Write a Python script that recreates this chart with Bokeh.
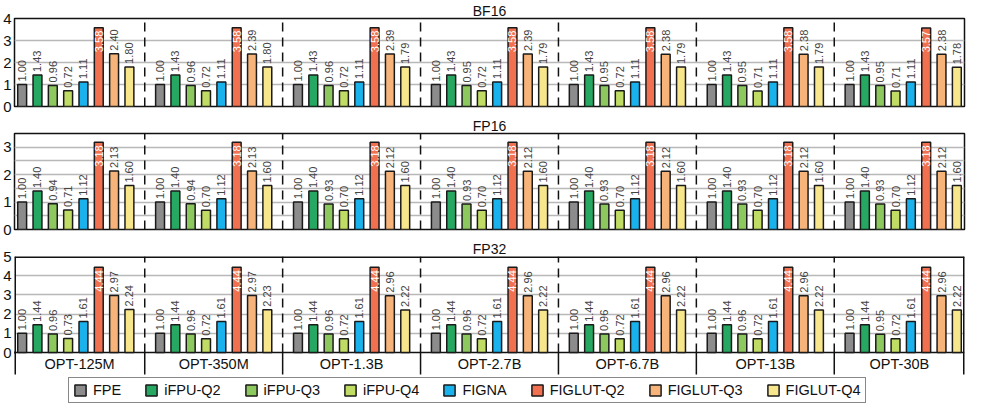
from bokeh.plotting import figure
from bokeh.layouts import column
from bokeh.models import Range1d, FixedTicker, ColumnDataSource, Legend, LegendItem
from bokeh.core.properties import value
from bokeh.embed import file_html
from bokeh.resources import INLINE

# ---------------- data ----------------
models = ["OPT-125M", "OPT-350M", "OPT-1.3B", "OPT-2.7B", "OPT-6.7B", "OPT-13B", "OPT-30B"]
series = ["FPE", "iFPU-Q2", "iFPU-Q3", "iFPU-Q4", "FIGNA", "FIGLUT-Q2", "FIGLUT-Q3", "FIGLUT-Q4"]
colors = ["#8c8c8c", "#27a862", "#8dc85f", "#c0dc64", "#1ab2ec", "#f07050", "#f6b47a", "#f8e68c"]

bf16 = [
    [1.00, 1.43, 0.96, 0.72, 1.11, 3.58, 2.40, 1.80],
    [1.00, 1.43, 0.96, 0.72, 1.11, 3.58, 2.39, 1.80],
    [1.00, 1.43, 0.96, 0.72, 1.11, 3.58, 2.39, 1.79],
    [1.00, 1.43, 0.95, 0.72, 1.11, 3.58, 2.39, 1.79],
    [1.00, 1.43, 0.95, 0.72, 1.11, 3.58, 2.38, 1.79],
    [1.00, 1.43, 0.95, 0.71, 1.11, 3.58, 2.38, 1.79],
    [1.00, 1.43, 0.95, 0.71, 1.11, 3.57, 2.38, 1.78],
]
fp16 = [
    [1.00, 1.40, 0.94, 0.71, 1.12, 3.18, 2.13, 1.60],
    [1.00, 1.40, 0.94, 0.70, 1.12, 3.18, 2.13, 1.60],
    [1.00, 1.40, 0.93, 0.70, 1.12, 3.18, 2.12, 1.60],
    [1.00, 1.40, 0.93, 0.70, 1.12, 3.18, 2.12, 1.60],
    [1.00, 1.40, 0.93, 0.70, 1.12, 3.18, 2.12, 1.60],
    [1.00, 1.40, 0.93, 0.70, 1.12, 3.18, 2.12, 1.60],
    [1.00, 1.40, 0.93, 0.70, 1.12, 3.18, 2.12, 1.60],
]
fp32 = [
    [1.00, 1.44, 0.96, 0.73, 1.61, 4.44, 2.97, 2.24],
    [1.00, 1.44, 0.96, 0.72, 1.61, 4.44, 2.97, 2.23],
    [1.00, 1.44, 0.96, 0.72, 1.61, 4.44, 2.96, 2.22],
    [1.00, 1.44, 0.96, 0.72, 1.61, 4.44, 2.96, 2.22],
    [1.00, 1.44, 0.96, 0.72, 1.61, 4.44, 2.96, 2.22],
    [1.00, 1.44, 0.96, 0.72, 1.61, 4.44, 2.96, 2.22],
    [1.00, 1.44, 0.95, 0.72, 1.61, 4.44, 2.96, 2.22],
]
panel_titles = ["BF16", "FP16", "FP32"]
y_tick_values = [[0, 1, 2, 3, 4], [0, 1, 2, 3], [0, 1, 2, 3, 4, 5]]
grid_values = [[1, 2, 3], [0.5, 1, 1.5, 2, 2.5, 3], [1, 2, 3, 4]]
y_limits = [4, 3.5, 5]

# ---------------- layout constants ----------------
FONT = "Liberation Sans"
INK = "#111111"
NS = len(series)
GW = NS + 1                      # group width in x units
X0, X1 = 0.5, len(models) * GW - 0.5
FW = 950
LB, RB = 13, 5
seps = [GW * g for g in range(1, len(models))]
inside_series = 5                # label drawn inside the tallest bar
BAND_PX = 22                     # category band height (px)
LOW_PX = 51                      # band + legend below the last panel (px)


def panel(title, rows, ymax, ticks, gticks, fh, low_px=0):
    unit = ymax / fh                       # data units per pixel
    ylow = -low_px * unit
    p = figure(frame_width=FW, frame_height=fh + low_px,
               x_range=Range1d(X0, X1), y_range=Range1d(ylow, ymax),
               x_axis_location=None, output_backend="svg", toolbar_location=None,
               min_border_left=LB, min_border_right=RB, min_border_top=0,
               min_border_bottom=0 if low_px else 9, title=title)
    p.title.align = "center"
    p.title.text_font = FONT
    p.title.text_font_size = "14px"
    p.title.text_font_style = "normal"
    p.title.text_color = INK
    p.title.standoff = 0
    p.title.offset = 0
    p.background_fill_color = "white"
    p.xgrid.visible = False
    p.ygrid.ticker = FixedTicker(ticks=gticks)
    p.ygrid.grid_line_color = "#b8b8b8"
    p.ygrid.grid_line_width = 1.3
    ax = p.yaxis[0]
    ax.ticker = FixedTicker(ticks=ticks)
    ax.major_label_text_font = FONT
    ax.major_label_text_font_size = "15px"
    ax.major_label_text_color = INK
    ax.major_tick_out = 0
    ax.major_tick_in = 0
    ax.minor_tick_out = 0
    ax.minor_tick_in = 0
    ax.axis_line_color = None
    ax.major_label_standoff = 3

    if low_px:
        p.outline_line_color = None
        band_bottom = -BAND_PX * unit
        # frame box drawn by hand (top, bottom, sides running into the band)
        p.segment(x0=[X0, X0], y0=[ymax, 0], x1=[X1, X1], y1=[ymax, 0],
                  line_color=INK, line_width=[3, 1.5])
        p.segment(x0=[X0, X1], y0=[ymax, ymax], x1=[X0, X1], y1=[band_bottom, band_bottom],
                  line_color=INK, line_width=3)
        p.segment(x0=seps, y0=0, x1=seps, y1=band_bottom, line_color=INK, line_width=1.5)
        centers = [(max(GW * g, X0) + min(GW * (g + 1), X1)) / 2 for g in range(len(models))]
        p.text(x=centers, y=[band_bottom / 2] * len(models), text=models,
               text_align="center", text_baseline="middle",
               text_font=value(FONT), text_font_size="14.5px", text_color=INK)
    else:
        p.outline_line_color = INK
        p.outline_line_width = 1.5

    p.segment(x0=seps, y0=0, x1=seps, y1=ymax, line_color=INK,
              line_width=1.5, line_dash="9 6")

    xs, tops, cols, labs, inside = [], [], [], [], []
    for g, row in enumerate(rows):
        for i, v in enumerate(row):
            xs.append(GW * g + 1 + i)
            tops.append(v)
            cols.append(colors[i])
            labs.append(f"{v:.2f}")
            inside.append(i == inside_series)
    src = ColumnDataSource(dict(x=xs, top=tops, color=cols))
    p.vbar(x="x", top="top", width=0.58, source=src, fill_color="color",
           line_color="#1a1a1a", line_width=1.5)

    out_src = ColumnDataSource(dict(
        x=[x for x, f in zip(xs, inside) if not f],
        y=[y for y, f in zip(tops, inside) if not f],
        t=[t for t, f in zip(labs, inside) if not f]))
    in_src = ColumnDataSource(dict(
        x=[x for x, f in zip(xs, inside) if f],
        y=[y for y, f in zip(tops, inside) if f],
        t=[t for t, f in zip(labs, inside) if f]))
    p.text(x="x", y="y", text="t", source=out_src, angle=1.5707963,
           text_align="left", text_baseline="middle", y_offset=-3,
           text_font=value(FONT), text_font_size="11px", text_color="#444444")
    p.text(x="x", y="y", text="t", source=in_src, angle=1.5707963,
           text_align="right", text_baseline="middle", y_offset=3,
           text_font=value(FONT), text_font_size="11px", text_color="white")

    if low_px:
        items = []
        for s, c in zip(series, colors):
            r = p.vbar(x=[-100], top=[0], width=0.5, fill_color=c,
                       line_color="#1a1a1a", line_width=1.5)
            items.append(LegendItem(label=s, renderers=[r]))
        legend = Legend(items=items, orientation="horizontal", location=(54, 0),
                        glyph_width=14, glyph_height=14, label_standoff=6, spacing=23,
                        padding=4, margin=0, border_line_color=INK, border_line_width=1.5,
                        label_text_font=FONT, label_text_font_size="14.5px",
                        label_text_color=INK, label_height=14, background_fill_alpha=1)
        p.add_layout(legend)
    return p


datasets = [bf16, fp16, fp32]
heights = [88, 96, 96]
panels = [panel(panel_titles[k], datasets[k], y_limits[k], y_tick_values[k],
                grid_values[k], heights[k], LOW_PX if k == 2 else 0) for k in range(3)]

layout = column(*panels, spacing=0)
open("out.html", "w").write(file_html(layout, INLINE))
